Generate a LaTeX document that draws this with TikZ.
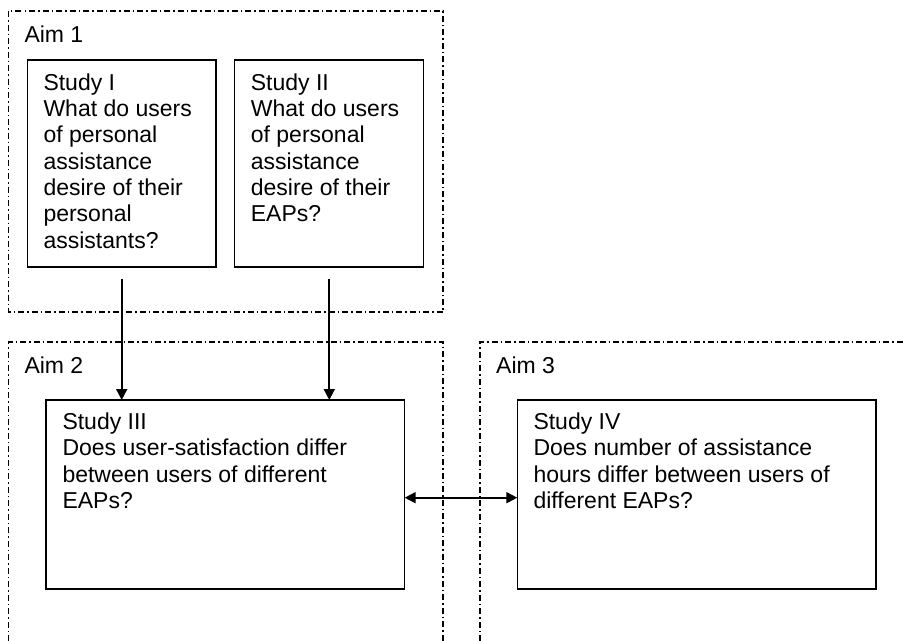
\documentclass[tikz,border=0pt]{standalone}
\usepackage{fontspec}
\setmainfont{Liberation Sans}
\usetikzlibrary{arrows.meta}
\begin{document}
\begin{tikzpicture}[x=1pt,y=-1pt,
  aimframe/.style={draw, line width=1.2pt, dash pattern=on 6pt off 3pt on 1.5pt off 3pt},
  studybox/.style={draw, line width=1.5pt, inner sep=0pt, outer sep=0pt, anchor=north west},
  boxtext/.style={anchor=north west, inner sep=0pt, align=left, font=\fontsize{23}{26.3}\selectfont},
  aimlabel/.style={anchor=base west, inner sep=0pt, font=\fontsize{23}{26.3}\selectfont},
  link/.style={line width=1.8pt, -{Triangle[length=11pt,width=11pt]}},
  twoway/.style={line width=1.8pt, {Triangle[length=11pt,width=11pt]}-{Triangle[length=11pt,width=11pt]}},
]
\useasboundingbox (0,0) rectangle (905,640);

% dash-dot frames of the three aims
\draw[aimframe] (8.5,11) rectangle (443,312);
\draw[aimframe] (8.5,641) -- (8.5,342) -- (443,342) -- (443,641);
\draw[aimframe] (480,641) -- (480,342) -- (906,342);

\node[aimlabel] (aim1) at (24.3,42.7) {Aim 1};
\node[aimlabel] (aim2) at (24.3,373.3) {Aim 2};
\node[aimlabel] (aim3) at (496,373.3) {Aim 3};

% study boxes
\node[studybox, minimum width=188.7pt, minimum height=207pt] (s1) at (27.3,60) {};
\node[studybox, minimum width=189pt, minimum height=207pt] (s2) at (234.7,60) {};
\node[studybox, minimum width=358.7pt, minimum height=189pt] (s3) at (46,400) {};
\node[studybox, minimum width=358.7pt, minimum height=189pt] (s4) at (517.3,400) {};

\node[boxtext] (t1) at (43.3,71.6) {\strut Study I\\What do users\\of personal\\assistance\\desire of their\\personal\\assistants?};
\node[boxtext] (t2) at (250.7,71.6) {\strut Study II\\What do users\\of personal\\assistance\\desire of their\\EAPs?};
\node[boxtext] (t3) at (62.3,411) {\strut Study III\\Does user-satisfaction differ\\between users of different\\EAPs?};
\node[boxtext] (t4) at (533.3,411) {\strut Study IV\\Does number of assistance\\hours differ between users of\\different EAPs?};

% connectors
\coordinate (from1) at (121.7,279);
\coordinate (from2) at (329.3,279);
\coordinate (across) at (0,497.7);
\draw[link] (from1) -- (from1 |- s3.north);
\draw[link] (from2) -- (from2 |- s3.north);
\draw[twoway] (s3.east |- across) -- (s4.west |- across);
\end{tikzpicture}
\end{document}
